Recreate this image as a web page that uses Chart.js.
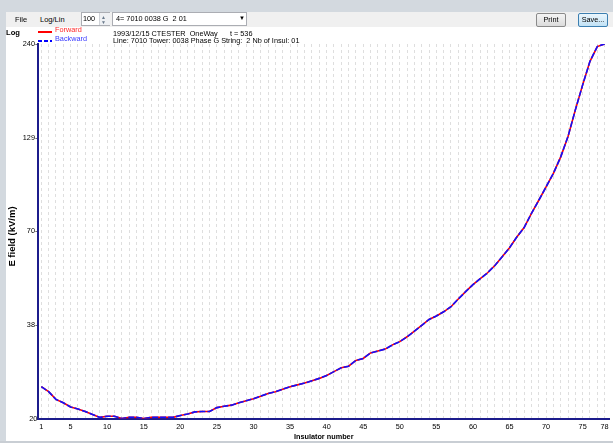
<!DOCTYPE html>
<html>
<head>
<meta charset="utf-8">
<script src="https://cdn.jsdelivr.net/npm/chart.js@4.4.0/dist/chart.umd.min.js"></script>
<style>
  body { margin: 0; width: 613px; height: 443px; position: relative; overflow: hidden; background: #fff;
         font-family: "Liberation Sans", Arial, sans-serif; font-size: 7.3px; color: #000; }
  #c { position: absolute; left: 0; top: 0; }
  .abs { position: absolute; white-space: pre; }
  #topstrip { left: 0; top: 0; width: 613px; height: 12px; background: #d3d9df; }
  #leftstrip { left: 0; top: 0; width: 6px; height: 443px; background: #d3d9df; }
  #bottomline { left: 0; top: 441px; width: 613px; height: 2px; background: #c9ced4; }
  #toolbar { left: 6px; top: 12px; width: 607px; height: 15px; background: #f0f0f0; }
  .box { background: #fff; border: 1px solid #abadb3; box-sizing: border-box; }
  .btn { box-sizing: border-box; border-radius: 2px; text-align: center; line-height: 12px; }
</style>
</head>
<body>
<canvas id="c" width="613" height="443"></canvas>

<div class="abs" id="topstrip"></div>
<div class="abs" id="toolbar"></div>
<div class="abs" id="leftstrip"></div>
<div class="abs" id="bottomline"></div>

<div class="abs" style="left:15px;top:14.5px;font-size:7.5px;">File</div>
<div class="abs" style="left:40px;top:14.5px;font-size:7.5px;">Log/Lin</div>
<div class="abs box" style="left:81px;top:12px;width:29px;height:14px;">
  <div class="abs" style="left:1px;top:1px;">100</div>
  <div class="abs" style="left:17px;top:0;width:10px;height:12px;background:#eef0f3;border-left:1px solid #d0d3d8;"></div>
  <div class="abs" style="left:19px;top:1px;font-size:5px;color:#6a7a8c;">▲</div>
  <div class="abs" style="left:19px;top:6px;font-size:5px;color:#6a7a8c;">▼</div>
</div>
<div class="abs box" style="left:112px;top:12px;width:135px;height:14px;">
  <div class="abs" style="left:3px;top:1px;">4= 7010 0038 G  2 01</div>
  <div class="abs" style="left:126px;top:2px;font-size:6px;">▼</div>
</div>
<div class="abs btn" style="left:536px;top:13px;width:30px;height:14px;border:1px solid #8a8a8a;background:linear-gradient(#f4f4f4,#dcdcdc);">Print</div>
<div class="abs btn" style="left:578px;top:13px;width:30px;height:14px;border:1px solid #3c7fb1;background:linear-gradient(#eaf6fd,#c2e2f5);">Save...</div>

<div class="abs" style="left:6px;top:28px;font-weight:bold;font-size:7.6px;">Log</div>
<div class="abs" style="left:38px;top:31px;width:14px;height:2px;background:#ff0000;"></div>
<div class="abs" style="left:55px;top:25px;color:#ff2a2a;">Forward</div>
<div class="abs" style="left:38px;top:39.5px;width:14px;height:2px;background:repeating-linear-gradient(90deg,#0000ff 0 4px,transparent 4px 6px);"></div>
<div class="abs" style="left:55px;top:34px;color:#3a3aff;">Backward</div>
<div class="abs" style="left:113px;top:28.5px;">1993/12/15 CTESTER  OneWay      t = 536</div>
<div class="abs" style="left:113px;top:36px;">Line: 7010 Tower: 0038 Phase G String:  2 Nb of Insul: 01</div>

<script>
const insulatorNumbers = [1, 2, 3, 4, 5, 6, 7, 8, 9, 10, 11, 12, 13, 14, 15, 16, 17, 18, 19, 20,
  21, 22, 23, 24, 25, 26, 27, 28, 29, 30, 31, 32, 33, 34, 35, 36, 37, 38, 39, 40,
  41, 42, 43, 44, 45, 46, 47, 48, 49, 50, 51, 52, 53, 54, 55, 56, 57, 58, 59, 60,
  61, 62, 63, 64, 65, 66, 67, 68, 69, 70, 71, 72, 73, 74, 75, 76, 77, 78];

// E field in kV/m
const forwardField = [24.7, 23.9, 22.7, 22.2, 21.6, 21.3, 20.95, 20.55, 20.15, 20.3,
  20.3, 20.0, 20.15, 20.15, 20.0, 20.15, 20.15, 20.15, 20.15, 20.4,
  20.6, 20.9, 20.95, 20.95, 21.5, 21.7, 21.85, 22.2, 22.5, 22.8,
  23.2, 23.6, 23.9, 24.3, 24.7, 25.0, 25.3, 25.7, 26.1, 26.6,
  27.3, 28.0, 28.3, 29.4, 29.8, 30.9, 31.3, 31.7, 32.6, 33.3,
  34.4, 35.7, 37.1, 38.6, 39.5, 40.6, 42.0, 44.2, 46.4, 48.6,
  50.6, 52.6, 55.2, 58.5, 62.1, 66.7, 71.0, 78.0, 85.1, 93.0,
  101.7, 113.5, 130, 155, 183, 214, 236, 240];
const backwardField = [24.7, 23.9, 22.7, 22.2, 21.6, 21.3, 20.95, 20.55, 20.15, 20.3,
  20.3, 20.0, 20.15, 20.15, 20.0, 20.15, 20.15, 20.15, 20.15, 20.4,
  20.6, 20.9, 20.95, 20.95, 21.5, 21.7, 21.85, 22.2, 22.5, 22.8,
  23.2, 23.6, 23.9, 24.3, 24.7, 25.0, 25.3, 25.7, 26.1, 26.6,
  27.3, 28.0, 28.3, 29.4, 29.8, 30.9, 31.3, 31.7, 32.6, 33.3,
  34.4, 35.7, 37.1, 38.6, 39.5, 40.6, 42.0, 44.2, 46.4, 48.6,
  50.6, 52.6, 55.2, 58.5, 62.1, 66.7, 71.0, 78.0, 85.1, 93.0,
  101.7, 113.5, 130, 155, 183, 214, 236, 240];

const xTickLabels = [1, 5, 10, 15, 20, 25, 30, 35, 40, 45, 50, 55, 60, 65, 70, 75, 78];
const yTickValues = [20, 37.2, 69.3, 128.9, 240];
const yTickLabels = ["20", "38-", "70-", "129-", "240-"];

const font = { family: "'Liberation Sans', Arial, sans-serif", size: 7.3 };
const axisColor = "#1c1c8c";

function points(values) {
  return insulatorNumbers.map((n, i) => ({ x: n, y: values[i] }));
}

new Chart(document.getElementById("c"), {
  type: "line",
  data: {
    datasets: [
      {
        label: "Backward",
        data: points(backwardField),
        borderColor: "#1010ff",
        borderWidth: 1.6,
        borderDash: [6, 2],
        pointRadius: 0,
        tension: 0,
        order: 0,
      },
      {
        label: "Forward",
        data: points(forwardField),
        borderColor: "#ff0000",
        borderWidth: 1.6,
        pointRadius: 0,
        tension: 0,
        order: 1,
      },
    ],
  },
  options: {
    responsive: false,
    animation: false,
    devicePixelRatio: 1,
    layout: { padding: { top: 44, right: 4, left: 0, bottom: 0 } },
    plugins: { legend: { display: false }, tooltip: { enabled: false } },
    scales: {
      x: {
        type: "linear",
        min: 0.6,
        max: 78.6,
        bounds: "data",
        afterBuildTicks: (s) => { s.ticks = insulatorNumbers.map((v) => ({ value: v })); },
        afterFit: (s) => { s.height = 24.5; },
        ticks: {
          autoSkip: false,
          maxRotation: 0,
          padding: 4,
          color: "#000",
          font: font,
          callback: (v) => (xTickLabels.includes(v) ? String(v) : ""),
        },
        grid: { display: true, drawTicks: false, color: "#dedede", lineWidth: 1 },
        border: { display: true, color: axisColor, width: 2, dash: [3, 3] },
        title: {
          display: true, text: "Insulator number", color: "#000",
          font: { family: font.family, size: 7.3, weight: "bold" },
          padding: { top: 0, bottom: 1.6 },
        },
      },
      y: {
        type: "logarithmic",
        min: 20,
        max: 240,
        bounds: "data",
        afterBuildTicks: (s) => { s.ticks = yTickValues.map((v) => ({ value: v })); },
        afterFit: (s) => { s.width = 38.4; },
        ticks: {
          padding: 1,
          color: "#000",
          font: font,
          callback: (v, i) => yTickLabels[i],
        },
        grid: { display: false, drawTicks: false },
        border: { display: true, color: axisColor, width: 2 },
        title: {
          display: true, text: "E field (kV/m)    ", color: "#000",
          font: { family: font.family, size: 9.5, weight: "bold" },
          padding: { top: 7, bottom: 0 },
        },
      },
    },
  },
});
</script>
</body>
</html>
